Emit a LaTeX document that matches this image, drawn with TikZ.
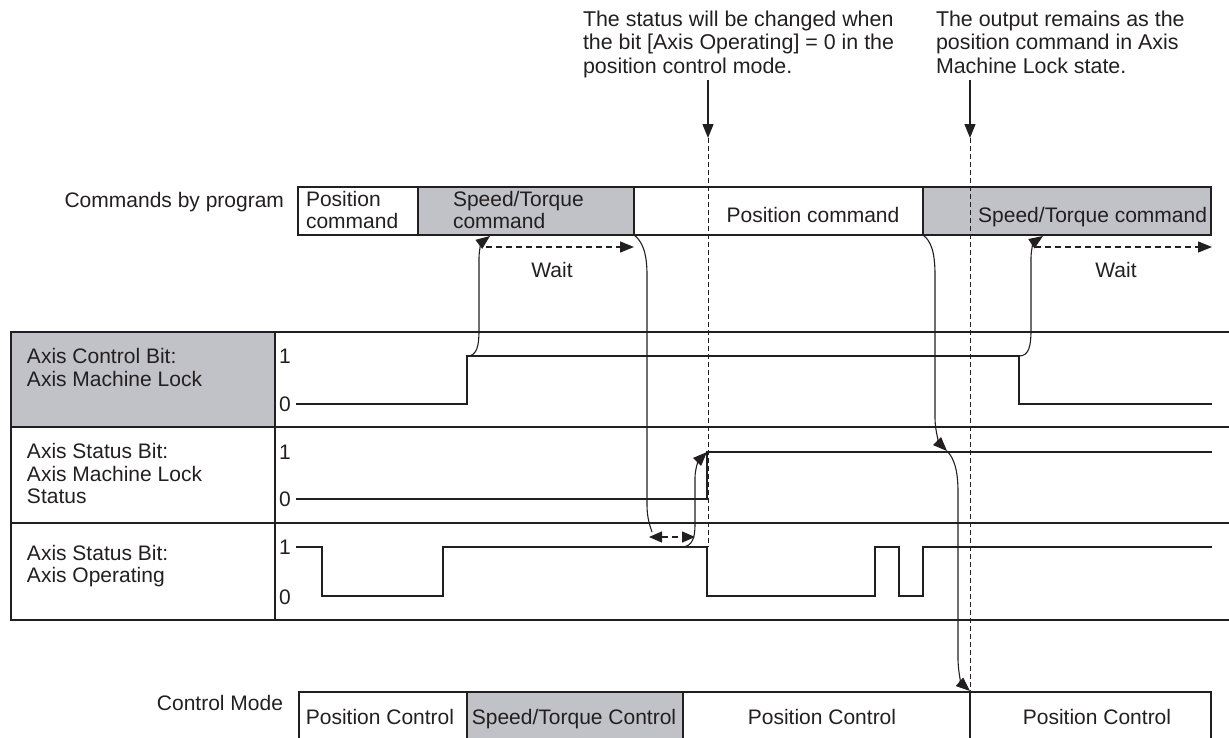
\documentclass[tikz,border=0pt]{standalone}
\usepackage{fontspec}
\setmainfont{Liberation Sans}
\usetikzlibrary{arrows.meta}
\definecolor{ink}{RGB}{35,31,32}
\definecolor{cellgray}{RGB}{192,194,200}
\newcommand\mlines[1]{\begin{tabular}[t]{@{}l@{}}#1\end{tabular}}
\begin{document}
\begin{tikzpicture}[x=1pt,y=-1pt,
  every node/.style={inner sep=0pt, outer sep=0pt, text=ink, font=\fontsize{21}{22.5}\selectfont},
  annot/.style={font=\fontsize{21.4}{23.5}\selectfont, anchor=base west},
  frame/.style={draw=ink, line width=1.7pt},
  sig/.style={draw=ink, line width=1.7pt, line join=miter},
  grid/.style={draw=ink, line width=1.7pt},
  tip/.style={-{Triangle[length=14pt,width=11pt]}},
  curve/.style={draw=ink, line width=1.1pt, tip},
  guide/.style={draw=ink, line width=1pt, dash pattern=on 5pt off 3pt},
  waitarrow/.style={draw=ink, line width=1.3pt, dash pattern=on 6pt off 4pt, tip},
  solidarrow/.style={draw=ink, line width=1.3pt, tip},
]
\useasboundingbox (0,0) rectangle (1229,737);

% ---------- annotations ----------
\node[annot] (note1) at (583,26) {\mlines{The status will be changed when\\the bit [Axis Operating] = 0 in the\\position control mode.}};
\node[annot] (note2) at (936,26) {\mlines{The output remains as the\\position command in Axis\\Machine Lock state.}};
\coordinate (n1top) at (708,80);
\coordinate (n1tip) at (708,138);
\coordinate (n2top) at (970,80);
\coordinate (n2tip) at (970,138);

% ---------- commands bar ----------
\fill[cellgray] (418,187) rectangle (634,235);
\fill[cellgray] (923,187) rectangle (1211,235);
\draw[frame] (298,187) rectangle (1211,235);
\draw[frame] (418,187)--(418,235) (634,187)--(634,235) (923,187)--(923,235);
\node[anchor=base east] (cmdlabel) at (284,207) {Commands by program};
\node[anchor=base west] (cmd1) at (306,206) {\mlines{Position\\command}};
\node[anchor=base west] (cmd2) at (453,206) {\mlines{Speed/Torque\\command}};
\node[anchor=base] (cmd3) at (813,222) {Position command};
\node[anchor=base east] (cmd4) at (1207,222) {Speed/Torque command};
\node[anchor=base] (wait1) at (552,277) {Wait};
\node[anchor=base] (wait2) at (1116,277) {Wait};

% ---------- table ----------
\fill[cellgray] (11,332) rectangle (275,427);
\draw[grid] (1240,332) -- (11,332) -- (11,620) -- (1240,620);
\draw[grid] (11,427)--(1240,427) (11,523)--(1240,523) (275,332)--(275,620);

\node[anchor=base west] (lab1) at (27,363.5) {\mlines{Axis Control Bit:\\Axis Machine Lock}};
\node[anchor=base west] (lab2) at (27,458.5) {\mlines{Axis Status Bit:\\Axis Machine Lock\\Status}};
\node[anchor=base west] (lab3) at (27,560) {\mlines{Axis Status Bit:\\Axis Operating}};

\node[anchor=west] (l1a) at (279,356) {1};
\node[anchor=west] (l0a) at (279,404) {0};
\node[anchor=west] (l1b) at (279,452) {1};
\node[anchor=west] (l0b) at (279,499) {0};
\node[anchor=west] (l1c) at (279,547) {1};
\node[anchor=west] (l0c) at (279,597) {0};

% ---------- signals ----------
\draw[sig] (296,404) -- (467,404) -- (467,356) -- (1019,356) -- (1019,404) -- (1212,404);
\draw[sig] (296,499) -- (707,499) -- (707,452) -- (1212,452);
\draw[sig] (296,547) -- (322,547) -- (322,596) -- (443,596) -- (443,547) -- (707,547) -- (707,596)
  -- (875,596) -- (875,547) -- (899,547) -- (899,596) -- (923,596) -- (923,547) -- (1212,547);

% ---------- control mode bar ----------
\fill[cellgray] (467,692) rectangle (683,760);
\draw[frame] (299,760) -- (299,692) -- (1211,692) -- (1211,760);
\draw[frame] (467,692)--(467,760) (683,692)--(683,760) (970,692)--(970,760);
\node[anchor=base east] (cmlabel) at (283,710) {Control Mode};
\node[anchor=base] (cm1) at (380,724.5) {Position Control};
\node[anchor=base] (cm2) at (574,724.5) {Speed/Torque Control};
\node[anchor=base] (cm3) at (822,724.5) {Position Control};
\node[anchor=base] (cm4) at (1097,724.5) {Position Control};

% ---------- key points ----------
\coordinate (mlrise) at (467,356);
\coordinate (mlfall) at (1019,356);
\coordinate (stcmdA) at (490,236);
\coordinate (stcmdB) at (1043,236);
\coordinate (cmdend1) at (634,235);
\coordinate (cmdend2) at (923,235);
\coordinate (opleft) at (649,537);
\coordinate (opright) at (695,537);
\coordinate (opstart) at (683,547);
\coordinate (strise) at (707,452);
\coordinate (sthit) at (947,451);
\coordinate (cmhit) at (970,691);
\coordinate (w1a) at (486,247);
\coordinate (w1b) at (634,247);
\coordinate (w2a) at (1035,247);
\coordinate (w2b) at (1212,247);
\coordinate (g1end) at (708,547);
\coordinate (g2end) at (970,691);

% ---------- annotation arrows and guides ----------
\draw[solidarrow] (n1top) -- (n1tip);
\draw[solidarrow] (n2top) -- (n2tip);
\draw[guide] (n1tip) -- (g1end);
\draw[guide] (n2tip) -- (g2end);

% ---------- wait arrows ----------
\draw[waitarrow] (w1a) -- (w1b);
\draw[waitarrow] (w2a) -- (w2b);
\draw[draw=ink, line width=1.3pt, dash pattern=on 6pt off 4pt, {Triangle[length=13pt,width=11pt]}-{Triangle[length=13pt,width=11pt]}] (opleft) -- (opright);

% ---------- curved connectors ----------
\draw[curve] (mlrise) .. controls (477,356) and (479,346) .. (479,330) -- (479,258) .. controls (479,249) and (482,242) .. (stcmdA);
\draw[curve] (mlfall) .. controls (1029,356) and (1031,346) .. (1031,330) -- (1031,258) .. controls (1031,249) and (1034,242) .. (stcmdB);
\draw[draw=ink, line width=1.1pt] (cmdend1) .. controls (642,241) and (647,252) .. (647,275) -- (647,505) .. controls (647,518) and (650,526) .. (652,532);
\draw[curve] (opstart) .. controls (692,546) and (695,538) .. (695,525) -- (695,478) .. controls (695,468) and (699,460) .. (strise);
\draw[curve] (cmdend2) .. controls (931,241) and (935,252) .. (935,275) -- (935,418) .. controls (935,432) and (940,444) .. (sthit);
\draw[curve] (sthit) .. controls (954,458) and (958,470) .. (958,492) -- (958,658) .. controls (958,674) and (962,684) .. (cmhit);
\end{tikzpicture}
\end{document}
